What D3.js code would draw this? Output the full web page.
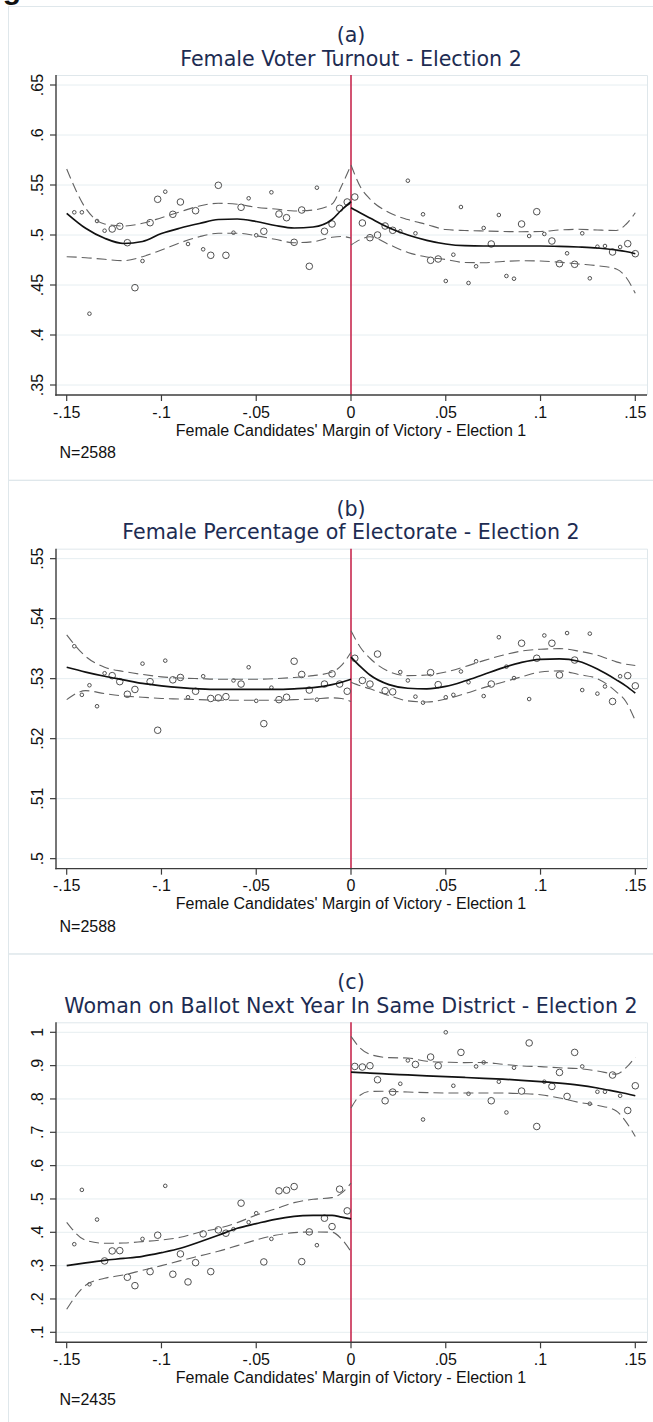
<!DOCTYPE html>
<html>
<head>
<meta charset="utf-8">
<script src="https://cdn.jsdelivr.net/npm/d3@7"></script>
<style>
  html, body { margin: 0; padding: 0; background: #ffffff; }
  svg { display: block; }
</style>
</head>
<body>
<script>
// ---------------------------------------------------------------------------
// Regression-discontinuity plots: binned means, polynomial fit and 95% CI,
// on either side of a zero margin of victory.
// ---------------------------------------------------------------------------

// Bin centres of the margin of victory (left and right of the cut-off)
const binsLeft = [-0.146, -0.142, -0.138, -0.134, -0.130, -0.126, -0.122, -0.118, -0.114, -0.110,
                  -0.106, -0.102, -0.098, -0.094, -0.090, -0.086, -0.082, -0.078, -0.074, -0.070,
                  -0.066, -0.062, -0.058, -0.054, -0.050, -0.046, -0.042, -0.038, -0.034, -0.030,
                  -0.026, -0.022, -0.018, -0.014, -0.010, -0.006, -0.002];
const binsRight = [0.002, 0.006, 0.010, 0.014, 0.018, 0.022, 0.026, 0.030, 0.034, 0.038,
                   0.042, 0.046, 0.050, 0.054, 0.058, 0.062, 0.066, 0.070, 0.074, 0.078,
                   0.082, 0.086, 0.090, 0.094, 0.098, 0.102, 0.106, 0.110, 0.114, 0.118,
                   0.122, 0.126, 0.130, 0.134, 0.138, 0.142, 0.146, 0.150];

// Evaluation points of the fitted curves
const gridLeft = [-0.15, -0.14, -0.13, -0.12, -0.11, -0.10, -0.09, -0.08, -0.07, -0.06,
                  -0.05, -0.04, -0.03, -0.02, -0.01, -0.005, 0];
const gridRight = [0, 0.005, 0.01, 0.02, 0.03, 0.04, 0.05, 0.06, 0.07, 0.08, 0.09,
                   0.10, 0.11, 0.12, 0.13, 0.14, 0.145, 0.15];

const xTickValues = [-0.15, -0.1, -0.05, 0, 0.05, 0.1, 0.15];
const xTickLabels = ["-.15", "-.1", "-.05", "0", ".05", ".1", ".15"];
const xAxisTitle = "Female Candidates' Margin of Victory - Election 1";

// ---- (a) Female voter turnout ------------------------------------------------
const aTitle = "Female Voter Turnout - Election 2";
const aN = "N=2588";
const aYTicks = [0.35, 0.4, 0.45, 0.5, 0.55, 0.6, 0.65];
const aYLabels = [".35", ".4", ".45", ".5", ".55", ".6", ".65"];
const aMeansLeft = [0.5227, 0.5227, 0.4213, 0.514, 0.5043, 0.506, 0.5087, 0.4923, 0.4473, 0.474,
                    0.5123, 0.5357, 0.5433, 0.5207, 0.533, 0.491, 0.5243, 0.4857, 0.4797, 0.5497,
                    0.4797, 0.5023, 0.5277, 0.5367, 0.4997, 0.5037, 0.5427, 0.521, 0.5173, 0.4927,
                    0.525, 0.4687, 0.5473, 0.5037, 0.511, 0.5267, 0.533];
const aMeansRight = [0.538, 0.512, 0.4973, 0.5, 0.509, 0.5047, 0.5037, 0.5543, 0.5017, 0.5207,
                     0.4747, 0.476, 0.454, 0.4803, 0.528, 0.452, 0.4687, 0.507, 0.491, 0.52,
                     0.459, 0.4563, 0.511, 0.499, 0.5233, 0.501, 0.494, 0.4713, 0.4817, 0.4707,
                     0.5017, 0.4567, 0.4883, 0.489, 0.483, 0.488, 0.4913, 0.4813];
const aWeightLeft = [1, 1, 1, 1, 1, 2, 2, 2, 2, 1, 2, 2, 1, 2, 2, 1, 2, 1, 2, 2,
                     2, 1, 2, 1, 1, 2, 1, 2, 2, 2, 2, 2, 1, 2, 2, 2, 2];
const aWeightRight = [2, 2, 2, 2, 2, 2, 1, 1, 1, 1, 2, 2, 1, 1, 1, 1, 1, 1, 2, 1,
                      1, 1, 2, 1, 2, 1, 2, 2, 1, 2, 1, 1, 1, 1, 2, 1, 2, 2];
const aFitLeft   = [0.5217, 0.5067, 0.4967, 0.4915, 0.4935, 0.5015, 0.507, 0.5115, 0.5155, 0.516,
                    0.5135, 0.5095, 0.507, 0.508, 0.5155, 0.525, 0.5333];
const aUpperLeft = [0.566, 0.5267, 0.511, 0.509, 0.5117, 0.5173, 0.5233, 0.529, 0.5317, 0.5307,
                    0.5277, 0.526, 0.524, 0.525, 0.531, 0.549, 0.57];
const aLowerLeft = [0.4783, 0.4773, 0.4757, 0.4743, 0.4783, 0.485, 0.4923, 0.4983, 0.5017, 0.5017,
                    0.4993, 0.4957, 0.4923, 0.4933, 0.4977, 0.4985, 0.497];
const aFitRight   = [0.5273, 0.522, 0.517, 0.5073, 0.5, 0.4947, 0.491, 0.4893, 0.489, 0.489,
                     0.489, 0.489, 0.4887, 0.488, 0.487, 0.485, 0.4835, 0.4813];
const aUpperRight = [0.57, 0.548, 0.536, 0.5225, 0.5155, 0.5105, 0.5055, 0.5045, 0.504, 0.5035,
                     0.5033, 0.5035, 0.505, 0.5057, 0.505, 0.5045, 0.5105, 0.5223];
const aLowerRight = [0.49, 0.4955, 0.4983, 0.4905, 0.4825, 0.478, 0.4755, 0.4725, 0.4723, 0.4735,
                     0.4743, 0.474, 0.4728, 0.471, 0.4693, 0.466, 0.458, 0.4417];

// ---- (b) Female share of the electorate -------------------------------------
const bTitle = "Female Percentage of Electorate - Election 2";
const bN = "N=2588";
const bYTicks = [0.5, 0.51, 0.52, 0.53, 0.54, 0.55];
const bYLabels = [".5", ".51", ".52", ".53", ".54", ".55"];
const bMeansLeft = [0.5354, 0.5273, 0.5289, 0.5254, 0.5309, 0.5305, 0.5295, 0.5274, 0.5282, 0.5325,
                    0.5295, 0.5214, 0.533, 0.5298, 0.5302, 0.5269, 0.5279, 0.5304, 0.5267, 0.5268,
                    0.527, 0.5297, 0.5291, 0.5319, 0.5263, 0.5225, 0.5285, 0.5265, 0.5269, 0.5329,
                    0.5307, 0.5281, 0.5265, 0.5291, 0.5308, 0.5291, 0.5279];
const bMeansRight = [0.5334, 0.5297, 0.5291, 0.5341, 0.528, 0.5278, 0.5311, 0.5297, 0.527, 0.526,
                     0.531, 0.529, 0.5269, 0.5273, 0.5312, 0.5294, 0.5329, 0.5271, 0.5291, 0.5369,
                     0.532, 0.5301, 0.5359, 0.5266, 0.5334, 0.5372, 0.5359, 0.5306, 0.5376, 0.5331,
                     0.5281, 0.5375, 0.5275, 0.5287, 0.5262, 0.5304, 0.5305, 0.5288];
const bWeightLeft = [1, 1, 1, 1, 1, 2, 2, 2, 2, 1, 2, 2, 1, 2, 2, 1, 2, 1, 2, 2,
                     2, 1, 2, 1, 1, 2, 1, 2, 2, 2, 2, 2, 1, 2, 2, 2, 2];
const bWeightRight = [2, 2, 2, 2, 2, 2, 1, 1, 1, 1, 2, 2, 1, 1, 1, 1, 1, 1, 2, 1,
                      1, 1, 2, 1, 2, 1, 2, 2, 1, 2, 1, 1, 1, 1, 2, 1, 2, 2];
const bFitLeft   = [0.5319, 0.5311, 0.5304, 0.5298, 0.5292, 0.5288, 0.5285, 0.5283, 0.5282, 0.5282,
                    0.5282, 0.5282, 0.5283, 0.5285, 0.529, 0.5294, 0.5299];
const bUpperLeft = [0.5373, 0.5337, 0.5319, 0.5312, 0.5307, 0.5303, 0.5301, 0.53, 0.5299, 0.5299,
                    0.5299, 0.53, 0.5302, 0.5305, 0.5311, 0.5322, 0.5344];
const bLowerLeft = [0.5265, 0.528, 0.5275, 0.5271, 0.5269, 0.5267, 0.5266, 0.5265, 0.5264, 0.5264,
                    0.5264, 0.5264, 0.5265, 0.5266, 0.5268, 0.5267, 0.5262];
const bFitRight   = [0.5336, 0.532, 0.5306, 0.529, 0.5284, 0.5283, 0.5287, 0.5296, 0.5307, 0.5318,
                     0.5327, 0.5332, 0.5333, 0.5329, 0.5316, 0.5298, 0.5288, 0.5276];
const bUpperRight = [0.538, 0.5352, 0.5334, 0.5312, 0.5305, 0.5306, 0.5311, 0.532, 0.533, 0.5339,
                     0.5346, 0.5349, 0.535, 0.5346, 0.5339, 0.5328, 0.5324, 0.5322];
const bLowerRight = [0.5294, 0.5288, 0.5283, 0.5272, 0.5263, 0.5261, 0.5266, 0.5275, 0.5285, 0.5294,
                     0.5303, 0.5311, 0.5313, 0.5307, 0.53, 0.5278, 0.5262, 0.523];

// ---- (c) Woman on the ballot the following year ------------------------------
const cTitle = "Woman on Ballot Next Year In Same District - Election 2";
const cN = "N=2435";
const cYTicks = [0.1, 0.2, 0.3, 0.4, 0.5, 0.6, 0.7, 0.8, 0.9, 1];
const cYLabels = [".1", ".2", ".3", ".4", ".5", ".6", ".7", ".8", ".9", "1"];
const cMeansLeft = [0.3643, 0.5273, 0.2441, 0.4382, 0.3141, 0.3441, 0.345, 0.2651, 0.2399, 0.3802,
                    0.282, 0.3913, 0.5393, 0.2742, 0.3351, 0.2511, 0.309, 0.3952, 0.282, 0.4072,
                    0.3973, 0.4093, 0.4874, 0.4303, 0.4573, 0.3111, 0.3802, 0.5243, 0.5264, 0.5372,
                    0.312, 0.4012, 0.3613, 0.4423, 0.4171, 0.5294, 0.4643];
const cMeansRight = [0.8976, 0.8958, 0.8997, 0.8577, 0.7946, 0.8207, 0.8456, 0.9156, 0.9036, 0.7384,
                     0.9258, 0.8997, 1.0, 0.8396, 0.9397, 0.8156, 0.8976, 0.9096, 0.7946, 0.8517,
                     0.7595, 0.8937, 0.8237, 0.968, 0.7174, 0.8517, 0.8376, 0.8796, 0.8076, 0.9397,
                     0.8976, 0.7856, 0.8216, 0.8216, 0.8718, 0.8096, 0.7655, 0.8396];
const cWeightLeft = [1, 1, 1, 1, 2, 2, 2, 2, 2, 1, 2, 2, 1, 2, 2, 2, 2, 2, 2, 2,
                     2, 1, 2, 1, 1, 2, 1, 2, 2, 2, 2, 2, 1, 2, 2, 2, 2];
const cWeightRight = [2, 2, 2, 2, 2, 2, 1, 1, 2, 1, 2, 2, 1, 1, 2, 1, 1, 1, 2, 1,
                      1, 1, 2, 2, 2, 1, 2, 2, 2, 2, 1, 1, 1, 1, 2, 1, 2, 2];
const cFitLeft   = [0.300, 0.3085, 0.316, 0.3215, 0.328, 0.339, 0.352, 0.371, 0.391, 0.412,
                    0.426, 0.439, 0.4475, 0.4505, 0.451, 0.4455, 0.4402];
const cUpperLeft = [0.430, 0.376, 0.367, 0.368, 0.372, 0.377, 0.385, 0.400, 0.412, 0.429,
                    0.452, 0.470, 0.489, 0.499, 0.504, 0.5174, 0.5474];
const cLowerLeft = [0.169, 0.241, 0.262, 0.272, 0.286, 0.300, 0.315, 0.329, 0.343, 0.360,
                    0.377, 0.391, 0.399, 0.401, 0.400, 0.380, 0.342];
const cFitRight   = [0.8808, 0.879, 0.8775, 0.8748, 0.872, 0.8695, 0.867, 0.8645, 0.862, 0.8595,
                     0.856, 0.852, 0.8475, 0.8415, 0.833, 0.822, 0.8165, 0.8096];
const cUpperRight = [0.9877, 0.952, 0.934, 0.924, 0.9228, 0.913, 0.9105, 0.909, 0.9095, 0.904,
                     0.899, 0.897, 0.8935, 0.891, 0.884, 0.8745, 0.893, 0.9258];
const cLowerRight = [0.7727, 0.812, 0.8227, 0.823, 0.8207, 0.819, 0.818, 0.8177, 0.8177, 0.8177,
                     0.816, 0.8127, 0.803, 0.79, 0.781, 0.764, 0.732, 0.6875];

// ---------------------------------------------------------------------------
const W = 653, H = 1422;
const panels = [
  { tag: "(a)", title: aTitle, n: aN, yTicks: aYTicks, yLabels: aYLabels,
    meansL: aMeansLeft, meansR: aMeansRight, wL: aWeightLeft, wR: aWeightRight,
    fitL: aFitLeft, upL: aUpperLeft, loL: aLowerLeft, fitR: aFitRight, upR: aUpperRight, loR: aLowerRight },
  { tag: "(b)", title: bTitle, n: bN, yTicks: bYTicks, yLabels: bYLabels,
    meansL: bMeansLeft, meansR: bMeansRight, wL: bWeightLeft, wR: bWeightRight,
    fitL: bFitLeft, upL: bUpperLeft, loL: bLowerLeft, fitR: bFitRight, upR: bUpperRight, loR: bLowerRight },
  { tag: "(c)", title: cTitle, n: cN, yTicks: cYTicks, yLabels: cYLabels,
    meansL: cMeansLeft, meansR: cMeansRight, wL: cWeightLeft, wR: cWeightRight,
    fitL: cFitLeft, upL: cUpperLeft, loL: cLowerLeft, fitR: cFitRight, upR: cUpperRight, loR: cLowerRight }
];

const TITLE_FONT = "'DejaVu Sans', 'Noto Sans', sans-serif";
const AXIS_FONT = "'Liberation Sans', Arial, sans-serif";
const TITLE_SIZE = 20.6;
const AXIS_SIZE = 16;
const TITLE_COLOR = "#1d2c52";
const GRID_COLOR = "#e6eef1";
const FRAME_COLOR = "#dfe7eb";
const AXIS_COLOR = "#3c3c3c";
const CUT_COLOR = "#c7294f";

const svg = d3.select("body").append("svg")
  .attr("width", W).attr("height", H)
  .attr("viewBox", `0 0 ${W} ${H}`);

svg.append("rect").attr("width", W).attr("height", H).attr("fill", "#ffffff");

// Heading of the figure, running off the top edge of the page
svg.append("text")
  .attr("x", 21).attr("y", -1)
  .attr("text-anchor", "end")
  .attr("font-family", AXIS_FONT)
  .attr("font-weight", "bold")
  .attr("font-size", 30)
  .attr("fill", "#111")
  .text("Fig");

const x = d3.scaleLinear().domain([-0.15, 0.15]).range([66.7, 635.3]);
const rScale = d3.scaleLinear().domain([1, 2]).range([1.8, 3.3]);

const plotLeft = 56, plotRight = 647, plotH = 320;

panels.forEach((p, i) => {
  const top = 75 + i * 473.65;
  const bottom = top + plotH;
  const g = svg.append("g");

  // panel frame
  g.append("rect")
    .attr("x", 8.5).attr("y", top - 69 + 0.5)
    .attr("width", W + 10).attr("height", 474)
    .attr("fill", "none").attr("stroke", FRAME_COLOR).attr("stroke-width", 1);

  const y = d3.scaleLinear()
    .domain([p.yTicks[0], p.yTicks[p.yTicks.length - 1]])
    .range([top + 310, top + 10]);

  // plot region outline (top and right)
  g.append("path")
    .attr("d", `M${plotLeft},${top + 0.5}H${plotRight + 0.5}V${bottom}`)
    .attr("fill", "none").attr("stroke", FRAME_COLOR).attr("stroke-width", 1);

  // horizontal grid
  g.append("g").selectAll("line").data(p.yTicks).join("line")
    .attr("x1", plotLeft).attr("x2", plotRight)
    .attr("y1", d => y(d)).attr("y2", d => y(d))
    .attr("stroke", GRID_COLOR).attr("stroke-width", 1);

  // titles
  g.append("text")
    .attr("x", 351).attr("y", top - 33)
    .attr("text-anchor", "middle")
    .attr("font-family", TITLE_FONT).attr("font-size", TITLE_SIZE)
    .attr("fill", TITLE_COLOR).text(p.tag);
  g.append("text")
    .attr("x", 351).attr("y", top - 9.5)
    .attr("text-anchor", "middle")
    .attr("font-family", TITLE_FONT).attr("font-size", TITLE_SIZE)
    .attr("fill", TITLE_COLOR).text(p.title);

  // cut-off at zero margin
  g.append("line")
    .attr("x1", x(0)).attr("x2", x(0))
    .attr("y1", top).attr("y2", bottom)
    .attr("stroke", CUT_COLOR).attr("stroke-width", 1.6);

  // binned means
  const pts = binsLeft.map((b, k) => ({ b, v: p.meansL[k], w: p.wL[k] }))
    .concat(binsRight.map((b, k) => ({ b, v: p.meansR[k], w: p.wR[k] })));
  g.append("g").selectAll("circle").data(pts).join("circle")
    .attr("cx", d => x(d.b)).attr("cy", d => y(d.v))
    .attr("r", d => rScale(d.w))
    .attr("fill", "none").attr("stroke", "#505050").attr("stroke-width", 1);

  // fitted curves and confidence bands
  const line = d3.line().x(d => x(d[0])).y(d => y(d[1])).curve(d3.curveMonotoneX);
  const zipL = arr => gridLeft.map((gx, k) => [gx, arr[k]]);
  const zipR = arr => gridRight.map((gx, k) => [gx, arr[k]]);

  [zipL(p.upL), zipL(p.loL), zipR(p.upR), zipR(p.loR)].forEach(d => {
    g.append("path").attr("d", line(d))
      .attr("fill", "none").attr("stroke", "#626262")
      .attr("stroke-width", 1.1).attr("stroke-dasharray", "10,5");
  });
  [zipL(p.fitL), zipR(p.fitR)].forEach(d => {
    g.append("path").attr("d", line(d))
      .attr("fill", "none").attr("stroke", "#111")
      .attr("stroke-width", 1.7);
  });

  // y axis
  g.append("line")
    .attr("x1", plotLeft).attr("x2", plotLeft)
    .attr("y1", top).attr("y2", bottom + 0.7)
    .attr("stroke", AXIS_COLOR).attr("stroke-width", 1.4);
  g.append("g").selectAll("line").data(p.yTicks).join("line")
    .attr("x1", plotLeft - 6).attr("x2", plotLeft)
    .attr("y1", d => y(d)).attr("y2", d => y(d))
    .attr("stroke", AXIS_COLOR).attr("stroke-width", 1.2);
  g.append("g").selectAll("text").data(p.yTicks).join("text")
    .attr("transform", d => `translate(43,${y(d)}) rotate(-90)`)
    .attr("text-anchor", "middle")
    .attr("font-family", AXIS_FONT).attr("font-size", AXIS_SIZE)
    .attr("fill", "#111")
    .text((d, k) => p.yLabels[k]);

  // x axis
  g.append("line")
    .attr("x1", plotLeft - 0.7).attr("x2", plotRight)
    .attr("y1", bottom).attr("y2", bottom)
    .attr("stroke", AXIS_COLOR).attr("stroke-width", 1.4);
  g.append("g").selectAll("line").data(xTickValues).join("line")
    .attr("x1", d => x(d)).attr("x2", d => x(d))
    .attr("y1", bottom).attr("y2", bottom + 6)
    .attr("stroke", AXIS_COLOR).attr("stroke-width", 1.2);
  g.append("g").selectAll("text").data(xTickValues).join("text")
    .attr("x", d => x(d)).attr("y", bottom + 22.5)
    .attr("text-anchor", "middle")
    .attr("font-family", AXIS_FONT).attr("font-size", AXIS_SIZE)
    .attr("fill", "#111")
    .text((d, k) => xTickLabels[k]);
  g.append("text")
    .attr("x", 351).attr("y", bottom + 40.6)
    .attr("text-anchor", "middle")
    .attr("font-family", AXIS_FONT).attr("font-size", AXIS_SIZE)
    .attr("fill", "#111").text(xAxisTitle);

  // sample size note
  g.append("text")
    .attr("x", 59.5).attr("y", bottom + 63)
    .attr("font-family", AXIS_FONT).attr("font-size", AXIS_SIZE)
    .attr("fill", "#111").text(p.n);
});
</script>
</body>
</html>
